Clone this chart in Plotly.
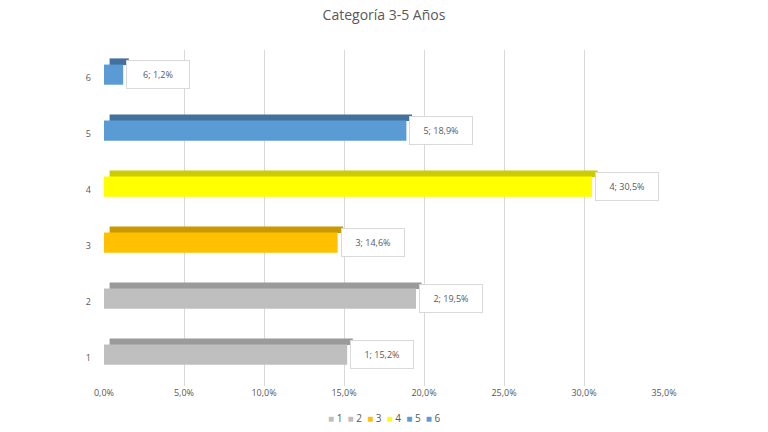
import plotly.graph_objects as go

categories = ["1", "2", "3", "4", "5", "6"]
values = [15.2, 19.5, 14.6, 30.5, 18.9, 1.2]
front_colors = ["#bfbfbf", "#bfbfbf", "#ffc000", "#ffff00", "#5b9bd5", "#5b9bd5"]
top_colors = ["#9a9a9a", "#9a9a9a", "#c99a00", "#cccc00", "#41719c", "#41719c"]
x_ticks = [0, 5, 10, 15, 20, 25, 30, 35]
x_tick_labels = [f"{t:.1f}%".replace(".", ",") for t in x_ticks]

fig = go.Figure()

for i, (c, v) in enumerate(zip(categories, values)):
    # top face (darker strip)
    fig.add_trace(go.Bar(
        y=[i], x=[v], orientation="h", base=0.35,
        width=0.12, offset=0.23,
        marker=dict(color=top_colors[i], line=dict(width=0)),
        showlegend=False, hoverinfo="skip",
    ))
    # front face
    fig.add_trace(go.Bar(
        y=[i], x=[v], orientation="h", name=c,
        width=0.36, offset=-0.12,
        marker=dict(color=front_colors[i], line=dict(width=0)),
        showlegend=False,
    ))

for i, (c, v) in enumerate(zip(categories, values)):
    label = f"{c}; {v:.1f}%".replace(".", ",")
    fig.add_annotation(
        x=v, y=i, xref="x", yref="y", text=label, showarrow=False,
        xanchor="left", yanchor="middle", xshift=3, yshift=4,
        font=dict(family="Open Sans", size=9, color="#595959"),
        bgcolor="white", bordercolor="#d9d9d9", borderwidth=1,
        borderpad=7, width=48,
    )

# compact legend built as text
legend_text = "&nbsp;&nbsp;".join(
    f"<span style='color:{col}; font-size:10px'>■</span> {c}" for c, col in zip(categories, front_colors)
)
fig.add_annotation(
    x=0.5, y=-0.095, xref="paper", yref="paper", text=legend_text, showarrow=False,
    xanchor="center", yanchor="middle",
    font=dict(family="Open Sans", size=10, color="#595959"),
)

fig.update_layout(
    width=768, height=432,
    margin=dict(l=104, r=104, t=50, b=46),
    paper_bgcolor="white", plot_bgcolor="white",
    barmode="overlay",
    title=dict(text="Categoría 3-5 Años", x=0.5, xanchor="center", y=0.965, yanchor="middle",
               font=dict(family="Open Sans", size=14, color="#595959")),
    font=dict(family="Open Sans", size=9, color="#595959"),
    showlegend=False,
    xaxis=dict(range=[0, 35], tickvals=x_ticks, ticktext=x_tick_labels,
               showgrid=True, gridcolor="#d9d9d9", gridwidth=1, zeroline=False,
               showline=False, ticks="", tickfont=dict(size=9, color="#595959")),
    yaxis=dict(range=[-0.5, 5.5], tickvals=list(range(len(categories))), ticktext=categories,
               showgrid=False, zeroline=False, showline=False, ticks="",
               ticklabelstandoff=12, tickfont=dict(size=9, color="#595959")),
)

fig.write_html("out.html")
